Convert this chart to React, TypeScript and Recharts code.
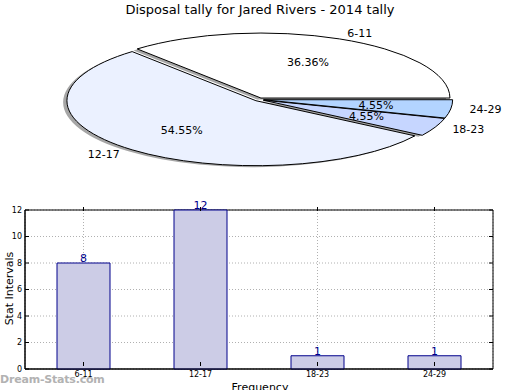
import { Bar, BarChart, CartesianGrid, LabelList, Pie, PieChart, ReferenceArea, XAxis, YAxis, Cell } from "recharts"

const categories = ["6-11", "12-17", "18-23", "24-29"]
const tally = [8, 12, 1, 1]
const sliceColors = ["#ffffff", "#ebf1ff", "#c6d6ff", "#b3d4ff"]
const yTicks = [0, 2, 4, 6, 8, 10, 12]

const data = categories.map((c, i) => ({ name: c, value: tally[i] }))

const RX = 189
const RY = 65
const RAD = Math.PI / 180

function ellipsePath(cx: number, cy: number, a0: number, a1: number) {
  const x0 = cx + RX * Math.cos(a0 * RAD)
  const y0 = cy - RY * Math.sin(a0 * RAD)
  const x1 = cx + RX * Math.cos(a1 * RAD)
  const y1 = cy - RY * Math.sin(a1 * RAD)
  const large = a1 - a0 > 180 ? 1 : 0
  return `M${cx},${cy} L${x0},${y0} A${RX},${RY} 0 ${large} 0 ${x1},${y1} Z`
}

// small explode offset along each slice's middle angle
function explode(cx: number, cy: number, mid: number) {
  return [cx + 4.7 * Math.cos(mid * RAD), cy - 1.6 * Math.sin(mid * RAD)]
}

const SliceShape = (props: any) => {
  const { cx, cy, startAngle, endAngle, fill } = props
  const mid = (startAngle + endAngle) / 2
  const [ex, ey] = explode(cx, cy, mid)
  return <path d={ellipsePath(ex, ey, startAngle, endAngle)} fill={fill} stroke="#000" strokeWidth={1} />
}

const ShadowShape = (props: any) => {
  const { cx, cy, startAngle, endAngle } = props
  const mid = (startAngle + endAngle) / 2
  const [ex, ey] = explode(cx, cy, mid)
  return <path d={ellipsePath(ex - 3.8, ey + 1.5, startAngle, endAngle)} fill="#4d4d4d" fillOpacity={0.5} stroke="none" />
}

const sliceLabel = (props: any) => {
  const { cx, cy, midAngle, name, percent } = props
  const c = Math.cos(midAngle * RAD)
  const s = Math.sin(midAngle * RAD)
  const [ex, ey] = explode(cx, cy, midAngle)
  const lx = ex + 1.1 * RX * c
  const ly = ey - 1.1 * RY * s
  const px = ex + 0.6 * RX * c
  const py = ey - 0.6 * RY * s
  return (
    <g>
      <text x={lx} y={ly} textAnchor={c >= 0 ? "start" : "end"} dominantBaseline="central" fontSize={11} fill="#000">{name}</text>
      <text x={px} y={py} textAnchor="middle" dominantBaseline="central" fontSize={11} fill="#000">{(percent * 100).toFixed(2)}%</text>
    </g>
  )
}

const YTick = (props: any) => {
  const { x, y, payload } = props
  return (
    <g>
      <line x1={x + 3} x2={x + 7} y1={y} y2={y} stroke="#000" />
      <line x1={x + 3 + 468} x2={x + 468 - 1} y1={y} y2={y} stroke="#000" />
      <text x={x} y={y} textAnchor="end" dominantBaseline="central" fontSize={8} fill="#000">{payload.value}</text>
    </g>
  )
}

const XTick = (props: any) => {
  const { x, y, payload } = props
  return (
    <g>
      <line x1={x} x2={x} y1={y - 3} y2={y - 7} stroke="#000" />
      <line x1={x} x2={x} y1={y - 3 - 159} y2={y - 159 + 1} stroke="#000" />
      <text x={x} y={y + 5} textAnchor="middle" dominantBaseline="central" fontSize={8} fill="#000">{payload.value}</text>
    </g>
  )
}

export default function App() {
  const font = "'DejaVu Sans', sans-serif"
  return (
    <div style={{ position: "absolute", top: 0, left: 0, width: 520, height: 390, fontFamily: font, background: "#fff", overflow: "hidden" }}>
      <div style={{ position: "absolute", top: 2, left: 0, width: 520, textAlign: "center", fontSize: 13 }}>
        Disposal tally for Jared Rivers - 2014 tally
      </div>
      <div style={{ position: "absolute", top: 0, left: 0 }}>
        <PieChart width={520} height={185} margin={{ top: 0, right: 0, bottom: 0, left: 0 }}>
          <Pie data={data} dataKey="value" nameKey="name" cx={259} cy={99.5} outerRadius={RX} startAngle={0} endAngle={360}
            shape={ShadowShape} isAnimationActive={false} label={false} stroke="none">
            {data.map((d) => <Cell key={d.name} fill="#4d4d4d" />)}
          </Pie>
          <Pie data={data} dataKey="value" nameKey="name" cx={259} cy={99.5} outerRadius={RX} startAngle={0} endAngle={360}
            shape={SliceShape} isAnimationActive={false} label={sliceLabel} labelLine={false}>
            {data.map((d, i) => <Cell key={d.name} fill={sliceColors[i]} />)}
          </Pie>
        </PieChart>
      </div>
      <div style={{ position: "absolute", top: 200, left: 0 }}>
        <BarChart width={520} height={190} data={data} margin={{ top: 10, right: 27, bottom: 0, left: 0 }} barCategoryGap={32}>
          <CartesianGrid stroke="#b0b0b0" strokeDasharray="1 2" />
          <XAxis dataKey="name" height={21} tickLine={false} tickSize={0} tickMargin={0} axisLine={{ stroke: "#000" }} tick={<XTick />} interval={0} />
          <YAxis width={25} domain={[0, 12]} ticks={yTicks} tickLine={false} tickSize={0} tickMargin={3} axisLine={{ stroke: "#000" }} tick={<YTick />} interval={0} />
          <ReferenceArea y1={0} y2={12} fill="none" fillOpacity={0} stroke="#000" strokeOpacity={1} />
          <Bar dataKey="value" fill="#ccccE6" stroke="#00008b" strokeWidth={1} isAnimationActive={false}>
            <LabelList dataKey="value" position="top" offset={1} fill="#00008b" fontSize={11} />
          </Bar>
        </BarChart>
      </div>
      <div style={{ position: "absolute", top: 381, left: 0, width: 520, textAlign: "center", fontSize: 11, lineHeight: "13px" }}>Frequency</div>
      <div style={{ position: "absolute", left: -41, top: 282, width: 100, textAlign: "center", fontSize: 11, lineHeight: "13px", transform: "rotate(-90deg)" }}>Stat Intervals</div>
      <div style={{ position: "absolute", left: 0, top: 373, fontSize: 11, fontWeight: "bold", color: "#aaaaaa", opacity: 0.9, lineHeight: "14px", letterSpacing: -0.2 }}>Dream-Stats.com</div>
    </div>
  )
}
